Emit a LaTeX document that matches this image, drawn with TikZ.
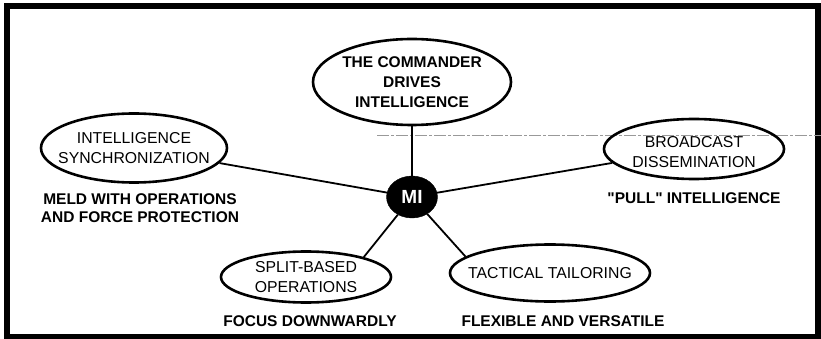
\documentclass[tikz,border=0pt]{standalone}
\usepackage{fontspec}
\setmainfont{Liberation Sans}
\newfontfamily\plainsans{Liberation Sans}
\usetikzlibrary{shapes.geometric}
\begin{document}
\begin{tikzpicture}[x=1pt,y=-1pt,
  oval/.style={draw, ellipse, line width=2.6pt, inner sep=0pt},
  txt/.style={align=center, inner sep=0pt, font=\fontsize{15.8}{20.5}\selectfont},
  btxt/.style={align=center, inner sep=0pt, font=\fontsize{15.5}{20}\selectfont\bfseries},
  lab/.style={align=center, inner sep=0pt, font=\plainsans\fontsize{15.5}{18}\selectfont\bfseries},
  hub/.style={draw, fill=black, ellipse, inner sep=0pt, minimum width=51pt, minimum height=42pt, text=white, font=\fontsize{19}{19}\selectfont\bfseries},
  link/.style={line width=1.8pt}]
\useasboundingbox (0,0) rectangle (821,339);
\draw[line width=6pt] (7,6.5) rectangle (818,336.5);
\draw[gray!80, line width=0.8pt, dash pattern=on 12pt off 2pt on 3pt off 2pt] (377,135) -- (821,135);

\node[hub] (mi) at (412,197) {MI};

\node[oval, minimum width=198pt, minimum height=86pt,
  label={[btxt]center:THE COMMANDER\\DRIVES\\INTELLIGENCE}] (top) at (412,82) {};
\node[oval, minimum width=186pt, minimum height=69pt,
  label={[txt]center:INTELLIGENCE\\SYNCHRONIZATION}] (left) at (134,148) {};
\node[oval, minimum width=180pt, minimum height=60pt,
  label={[txt,yshift=-3pt]center:BROADCAST\\DISSEMINATION}] (right) at (694,149) {};
\node[oval, minimum width=170pt, minimum height=51pt,
  label={[txt]center:SPLIT-BASED\\OPERATIONS}] (split) at (306,277) {};
\node[oval, minimum width=200pt, minimum height=57pt,
  label={[txt]center:TACTICAL TAILORING}] (tac) at (550,273) {};

\draw[link] (mi) -- (top);
\draw[link] (mi) -- (left);
\draw[link] (mi) -- (right);
\draw[link] (mi) -- (split.19);
\draw[link] (mi) -- (tac.169);

\node[lab] (meld) at (140,208) {MELD WITH OPERATIONS\\AND FORCE PROTECTION};
\node[lab] (pull) at (694,198) {"PULL" INTELLIGENCE};
\node[lab] (focus) at (310,321) {FOCUS DOWNWARDLY};
\node[lab] (flex) at (563,321) {FLEXIBLE AND VERSATILE};
\end{tikzpicture}
\end{document}
